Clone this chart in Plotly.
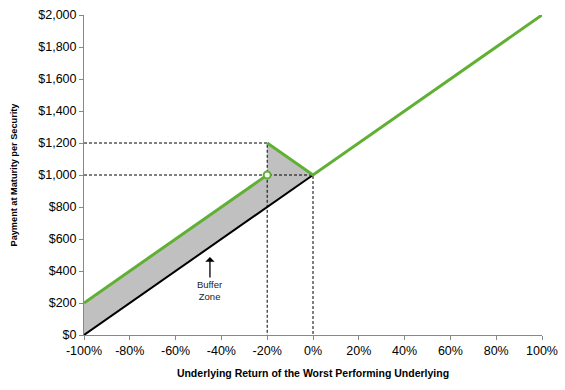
import plotly.graph_objects as go

# Data (underlying return in %, payment in $)
x_ticks = [-100, -80, -60, -40, -20, 0, 20, 40, 60, 80, 100]
x_tick_labels = ["-100%", "-80%", "-60%", "-40%", "-20%", "0%", "20%", "40%", "60%", "80%", "100%"]
y_ticks = [0, 200, 400, 600, 800, 1000, 1200, 1400, 1600, 1800, 2000]
y_tick_labels = ["$0", "$200", "$400", "$600", "$800", "$1,000", "$1,200", "$1,400",
                 "$1,600", "$1,800", "$2,000"]

note_returns_low = [-100, -20]
note_payment_low = [200, 1000]
note_returns_high = [-20, 0, 100]
note_payment_high = [1200, 1000, 2000]
underlying_returns = [-100, 0]
underlying_payment = [0, 1000]
buffer_return = -20
buffer_payment = 1000
cap_payment = 1200
par_return = 0
par_payment = 1000
label_return = -45
label_payment = 500

GREEN = "#60b034"
FONT = "Liberation Sans, Arial, sans-serif"

fig = go.Figure()

# Buffer zone shading
poly_x = note_returns_low + note_returns_high[:2] + underlying_returns[::-1]
poly_y = note_payment_low + note_payment_high[:2] + underlying_payment[::-1]
fig.add_trace(go.Scatter(x=poly_x, y=poly_y, fill="toself", fillcolor="#c0c0c0",
                         mode="lines", line=dict(width=0), hoverinfo="skip"))

# Dashed guide lines
dash = dict(color="black", width=1, dash="3px,2px")
fig.add_trace(go.Scatter(x=[x_ticks[0], buffer_return, buffer_return],
                         y=[cap_payment, cap_payment, y_ticks[0]], mode="lines", line=dash))
fig.add_trace(go.Scatter(x=[x_ticks[0], par_return, par_return],
                         y=[par_payment, par_payment, y_ticks[0]], mode="lines", line=dash))

# Underlying line
fig.add_trace(go.Scatter(x=underlying_returns, y=underlying_payment, mode="lines",
                         line=dict(color="black", width=2), cliponaxis=False))

# Note payoff
fig.add_trace(go.Scatter(x=note_returns_low, y=note_payment_low, mode="lines",
                         line=dict(color=GREEN, width=3), cliponaxis=False))
fig.add_trace(go.Scatter(x=note_returns_high, y=note_payment_high, mode="lines",
                         line=dict(color=GREEN, width=3), cliponaxis=False))
fig.add_trace(go.Scatter(x=[buffer_return], y=[buffer_payment], mode="markers",
                         marker=dict(symbol="circle", size=7, color="white",
                                     line=dict(color=GREEN, width=2)), cliponaxis=False))

fig.add_annotation(x=label_return, y=label_payment, ax=0, ay=24, xref="x", yref="y",
                   text="", showarrow=True, arrowhead=1, arrowsize=1.2, arrowwidth=1.3,
                   arrowcolor="black", standoff=2)
fig.add_annotation(x=label_return, y=label_payment, yshift=-35, xref="x", yref="y",
                   text="Buffer<br>Zone", showarrow=False,
                   font=dict(family=FONT, size=9.5, color="#222"))

fig.update_layout(
    width=565, height=390, showlegend=False,
    margin=dict(l=84, r=23, t=15, b=55),
    plot_bgcolor="white", paper_bgcolor="white",
    font=dict(family=FONT, size=12.5, color="black"),
    xaxis=dict(range=[-100, 100], tickvals=x_ticks, ticktext=x_tick_labels,
               showgrid=False, zeroline=False, showline=True, linecolor="#888",
               linewidth=1, ticks="outside", ticklen=4, tickcolor="#888",
               automargin=False,
               title=dict(text="<b>Underlying Return of the Worst Performing Underlying</b>",
                          font=dict(size=10.5), standoff=12)),
    yaxis=dict(range=[0, 2000], tickvals=y_ticks, ticktext=y_tick_labels,
               showgrid=False, zeroline=False, showline=True, linecolor="#888",
               linewidth=1, ticks="outside", ticklen=4, tickcolor="#888",
               automargin=False,
               title=dict(text="<b>Payment at Maturity per Security</b>",
                          font=dict(size=9.2), standoff=19)),
)

fig.write_html("out.html", config={"displayModeBar": False},
               post_script="document.body.style.margin='0';")
